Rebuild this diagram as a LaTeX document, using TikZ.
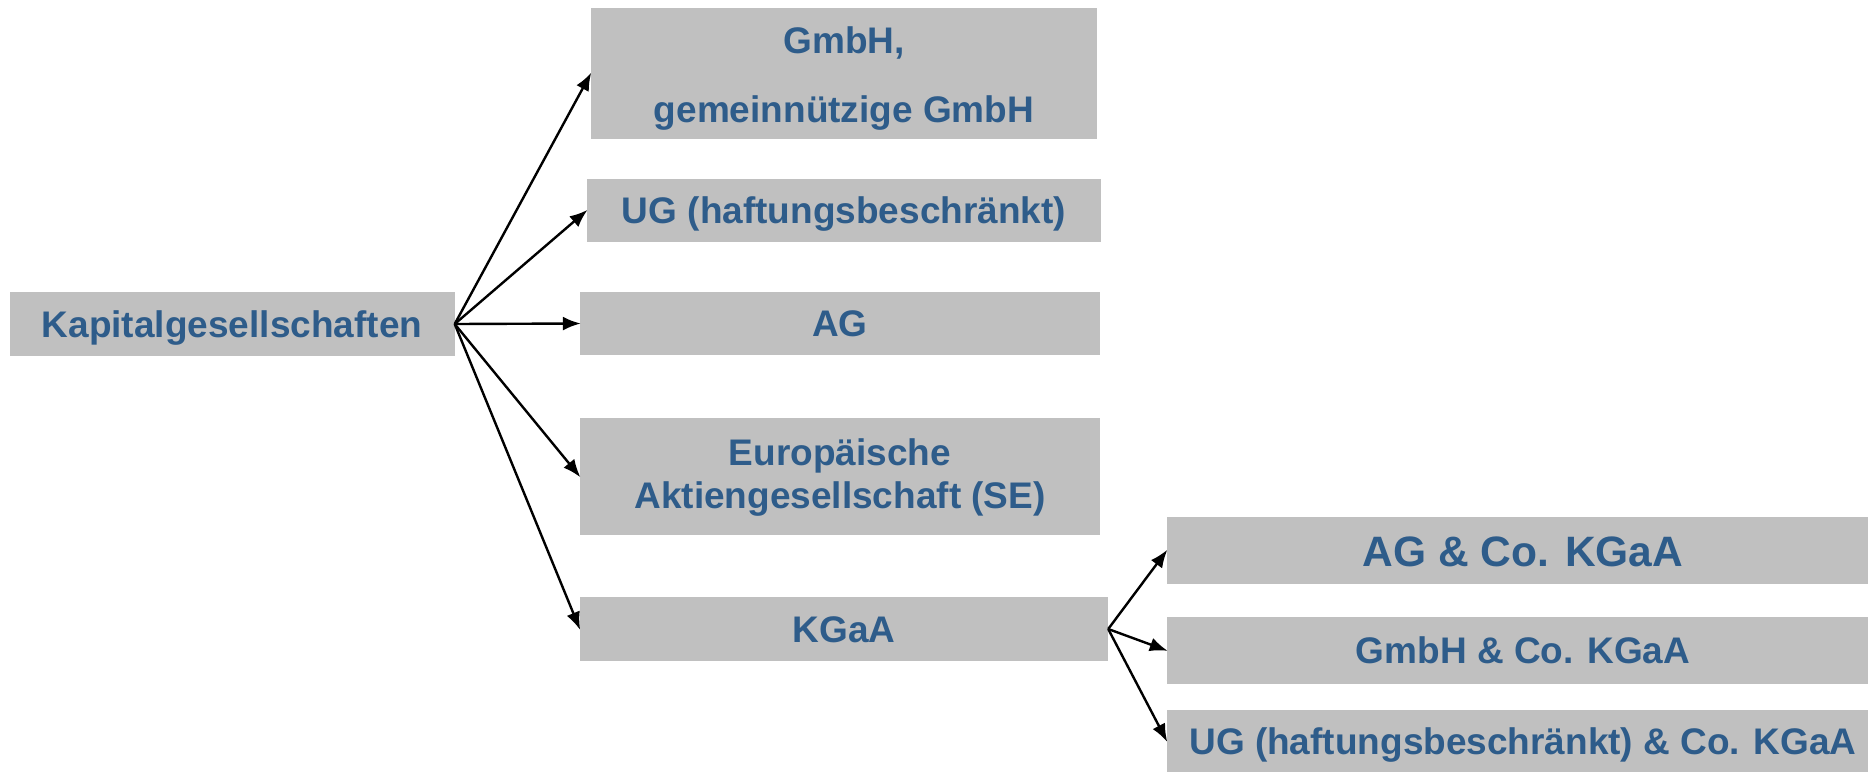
\documentclass[tikz,border=0pt]{standalone}
\usepackage{fontspec}
\setmainfont{Liberation Sans}
\usetikzlibrary{arrows.meta}
\definecolor{boxgray}{RGB}{192,192,192}
\definecolor{txtblue}{RGB}{46,92,138}
\begin{document}
\begin{tikzpicture}[x=1pt,y=-1pt,
  box/.style={fill=boxgray, draw=none, inner sep=0pt, text=txtblue,
    font=\bfseries\fontsize{37}{44}\selectfont, align=center,
    text height=26.5pt, text depth=0pt},
  conn/.style={line width=2.4pt, -{Latex[length=18pt,width=14pt]}, shorten >=-1pt}]
\useasboundingbox (0,0) rectangle (1868,772);
\node[box, minimum width=445pt, minimum height=64pt] (kap) at (232,324) {Kapitalgesellschaften};
\node[box, text height=97pt, minimum width=506pt, minimum height=131pt, font=\bfseries\fontsize{37}{68.5}\selectfont] (gmbh) at (844,73.5) {GmbH,\\gemeinnützige GmbH};
\node[box, minimum width=514pt, minimum height=63pt] (ug) at (844,210.5) {UG (haftungsbeschränkt)};
\node[box, minimum width=520pt, minimum height=63pt] (ag) at (840,323.5) {AG};
\node[box, text height=64pt, minimum width=520pt, minimum height=117pt, font=\bfseries\fontsize{37}{43}\selectfont] (se) at (840,476.5) {Europäische\\Aktiengesellschaft (SE)};
\node[box, minimum width=528pt, minimum height=64pt] (kgaa) at (844,629) {KGaA};
\node[box, minimum width=712pt, minimum height=67pt, font=\bfseries\fontsize{42.5}{50}\selectfont, text height=37pt, text depth=6pt] (agco) at (1523,550.5) {AG \& Co. KGaA};
\node[box, minimum width=712pt, minimum height=67pt] (gmbhco) at (1523,650.5) {GmbH \& Co. KGaA};
\node[box, minimum width=712pt, minimum height=62pt] (ugco) at (1523,741) {UG (haftungsbeschränkt) \& Co. KGaA};
\draw[conn] (kap.east) -- (gmbh.west);
\draw[conn] (kap.east) -- (ug.west);
\draw[conn] (kap.east) -- (ag.west);
\draw[conn] (kap.east) -- (se.west);
\draw[conn] (kap.east) -- (kgaa.west);
\draw[conn] (kgaa.east) -- (agco.west);
\draw[conn] (kgaa.east) -- (gmbhco.west);
\draw[conn] (kgaa.east) -- (ugco.west);
\end{tikzpicture}
\end{document}
